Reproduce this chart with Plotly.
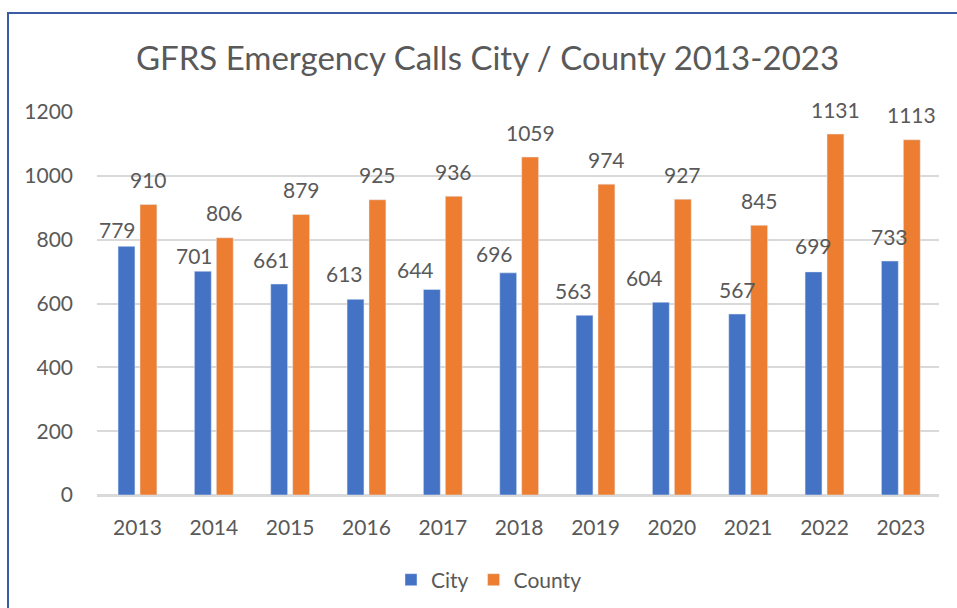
import plotly.graph_objects as go

# Emergency call counts by year
years = ["2013", "2014", "2015", "2016", "2017", "2018", "2019", "2020", "2021", "2022", "2023"]
city_calls = [779, 701, 661, 613, 644, 696, 563, 604, 567, 699, 733]
county_calls = [910, 806, 879, 925, 936, 1059, 974, 927, 845, 1131, 1113]

# pixel nudges (dx, dy) applied to the City value labels
city_label_nudge = [(-9, -8), (-8, -9), (-8, 0), (-11, 1), (-16, -5), (-14, -6),
                    (-11, 0), (-16, 0), (0, 0), (0, 1), (0, 0)]

CITY_COLOR = "#4472C4"
COUNTY_COLOR = "#ED7D31"
TEXT_COLOR = "#595959"
GRID_COLOR = "#D9D9D9"
FONT = "Lato"

W, H = 957, 608
L, R, T, B = 97, 18, 112, 113
BARGAP = 0.425
BARGROUPGAP = 0.23

fig = go.Figure()
fig.add_trace(go.Bar(name="City", x=years, y=city_calls, marker_color=CITY_COLOR))
fig.add_trace(go.Bar(name="County", x=years, y=county_calls, marker_color=COUNTY_COLOR))

# centre of each bar within a category, in category units
slot = (1 - BARGAP) / 2
offsets = [-slot / 2, slot / 2]

annotations = []
LABEL_RISE = 25
for i, v in enumerate(city_calls):
    dx, dy = city_label_nudge[i]
    annotations.append(dict(x=i + offsets[0], y=v, xref="x", yref="y", text=str(v),
                            showarrow=False, xanchor="center", yanchor="middle",
                            xshift=dx, yshift=LABEL_RISE + dy,
                            font=dict(family=FONT, size=21, color=TEXT_COLOR)))
for i, v in enumerate(county_calls):
    annotations.append(dict(x=i + offsets[1], y=v, xref="x", yref="y", text=str(v),
                            showarrow=False, xanchor="center", yanchor="middle",
                            yshift=LABEL_RISE,
                            font=dict(family=FONT, size=21, color=TEXT_COLOR)))

# chart-area frame (left and top edges visible)
pw = W - L - R
ph = H - T - B
def px_x(p):
    return (p - L) / pw
def px_y(p):
    return 1 - (p - T) / ph

fig.add_shape(type="rect", xref="paper", yref="paper",
              x0=px_x(8), x1=px_x(990), y0=px_y(640), y1=px_y(13),
              line=dict(color="#3B5CA3", width=2), fillcolor="rgba(0,0,0,0)", layer="above")

fig.update_layout(
    width=W, height=H,
    margin=dict(l=L, r=R, t=T, b=B, pad=0),
    paper_bgcolor="white", plot_bgcolor="white",
    barmode="group", bargap=BARGAP, bargroupgap=BARGROUPGAP,
    font=dict(family=FONT, color=TEXT_COLOR),
    title=dict(text="GFRS Emergency Calls City / County 2013-2023",
               x=487.5 / W, xref="container", xanchor="center",
               y=1 - 58 / H, yref="container", yanchor="middle",
               font=dict(family=FONT, size=33, color=TEXT_COLOR)),
    xaxis=dict(type="category", showgrid=False, showline=True, linecolor=GRID_COLOR, linewidth=1.5,
               ticks="", tickfont=dict(family=FONT, size=21, color=TEXT_COLOR),
               ticklabelstandoff=13, fixedrange=True),
    yaxis=dict(range=[0, 1200], dtick=200, showgrid=True, gridcolor=GRID_COLOR, gridwidth=1.5,
               zeroline=True, zerolinecolor=GRID_COLOR, zerolinewidth=1.5, showline=False,
               ticks="", tickfont=dict(family=FONT, size=21, color=TEXT_COLOR),
               ticklabelstandoff=23, fixedrange=True),
    legend=dict(orientation="h", xref="container", yref="container",
                x=489 / W, xanchor="center", y=1 - 580 / H, yanchor="middle",
                font=dict(family=FONT, size=21, color=TEXT_COLOR),
                itemwidth=30, traceorder="normal"),
    annotations=annotations,
)

fig.write_html("out.html")
